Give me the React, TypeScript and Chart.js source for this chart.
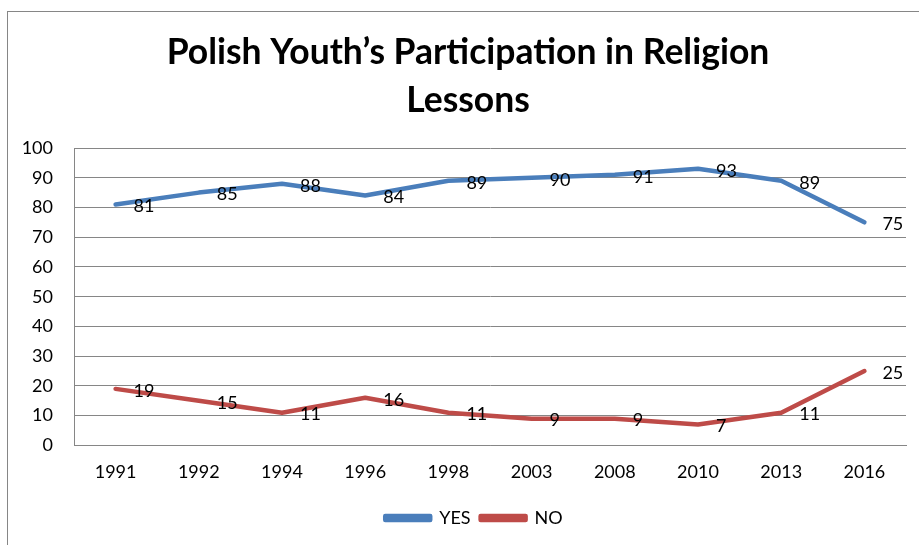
import React, { useEffect, useRef } from "react";
import { Chart, registerables } from "chart.js";

Chart.register(...registerables);

const titleLines = ["Polish Youth\u2019s Participation in Religion", "Lessons"];
const years = ["1991", "1992", "1994", "1996", "1998", "2003", "2008", "2010", "2013", "2016"];
const yesValues = [81, 85, 88, 84, 89, 90, 91, 93, 89, 75];
const noValues = [19, 15, 11, 16, 11, 9, 9, 7, 11, 25];
const yTicks = [0, 10, 20, 30, 40, 50, 60, 70, 80, 90, 100];

const FONT = "Lato, 'Open Sans', sans-serif";

const valueLabels = {
  id: "valueLabels",
  afterDatasetsDraw(chart: any) {
    const ctx = chart.ctx;
    ctx.save();
    ctx.font = `18px ${FONT}`;
    ctx.fillStyle = "#000";
    ctx.textAlign = "left";
    ctx.textBaseline = "middle";
    chart.data.datasets.forEach((ds: any, i: number) => {
      const meta = chart.getDatasetMeta(i);
      meta.data.forEach((el: any, j: number) => {
        ctx.fillText(String(ds.data[j]), el.x + 18, el.y + 2);
      });
    });
    ctx.restore();
  },
};

const boxShift = {
  id: "boxShift",
  afterLayout(chart: any) {
    if (chart.legend) {
      chart.legend.left += 21;
      chart.legend.right += 21;
    }
    if (chart.titleBlock) {
      chart.titleBlock.left += 15;
      chart.titleBlock.right += 15;
    }
  },
};

export default function App() {
  const ref = useRef<HTMLCanvasElement>(null);
  useEffect(() => {
    document.body.style.overflow = "hidden";
    const chart = new Chart(ref.current!, {
      type: "line",
      data: {
        labels: years,
        datasets: [
          {
            label: "YES",
            data: yesValues,
            borderColor: "#4A7EBB",
            backgroundColor: "#4A7EBB",
            borderWidth: 4.5,
            pointRadius: 0,
            tension: 0,
            borderCapStyle: "round",
            borderJoinStyle: "round",
          },
          {
            label: "NO",
            data: noValues,
            borderColor: "#BE4B48",
            backgroundColor: "#BE4B48",
            borderWidth: 4.5,
            pointRadius: 0,
            tension: 0,
            borderCapStyle: "round",
            borderJoinStyle: "round",
          },
        ],
      },
      options: {
        responsive: false,
        animation: false,
        layout: { padding: { left: 0, right: 13, top: 0, bottom: 8 } },
        plugins: {
          title: {
            display: true,
            text: titleLines,
            color: "#000",
            font: { family: FONT, size: 35.5, weight: "bold", lineHeight: 48 / 35.5 },
            padding: { top: 29, bottom: 23 },
          },
          legend: {
            position: "bottom",
            labels: {
              boxWidth: 45,
              boxHeight: 4,
              color: "#000",
              font: { family: FONT, size: 18 },
              padding: 10,
            },
          },
          tooltip: { enabled: false },
        },
        scales: {
          x: {
            offset: true,
            grid: { display: false, drawTicks: false },
            border: { display: true, color: "#868686", width: 1 },
            ticks: { color: "#000", font: { family: FONT, size: 18 }, padding: 16, maxRotation: 0 },
          },
          y: {
            min: 0,
            max: 100,
            afterFit(scale: any) {
              scale.width = 74;
            },
            afterBuildTicks(scale: any) {
              scale.ticks = yTicks.map((v) => ({ value: v }));
            },
            grid: { color: "#868686", lineWidth: 1, drawTicks: false },
            border: { display: true, color: "#868686", width: 1 },
            ticks: { color: "#000", font: { family: FONT, size: 18 }, padding: 21 },
          },
        },
      },
      plugins: [valueLabels, boxShift],
    });
    return () => chart.destroy();
  }, []);
  return (
    <div style={{ position: "fixed", left: 0, top: 0, width: 919, height: 545, overflow: "hidden", background: "#fff" }}>
      <div
        style={{
          position: "absolute",
          left: 7,
          top: 11,
          width: 1000,
          height: 700,
          border: "1px solid #868686",
        }}
      />
      <canvas ref={ref} width={919} height={545} style={{ position: "absolute", left: 0, top: 0 }} />
    </div>
  );
}
